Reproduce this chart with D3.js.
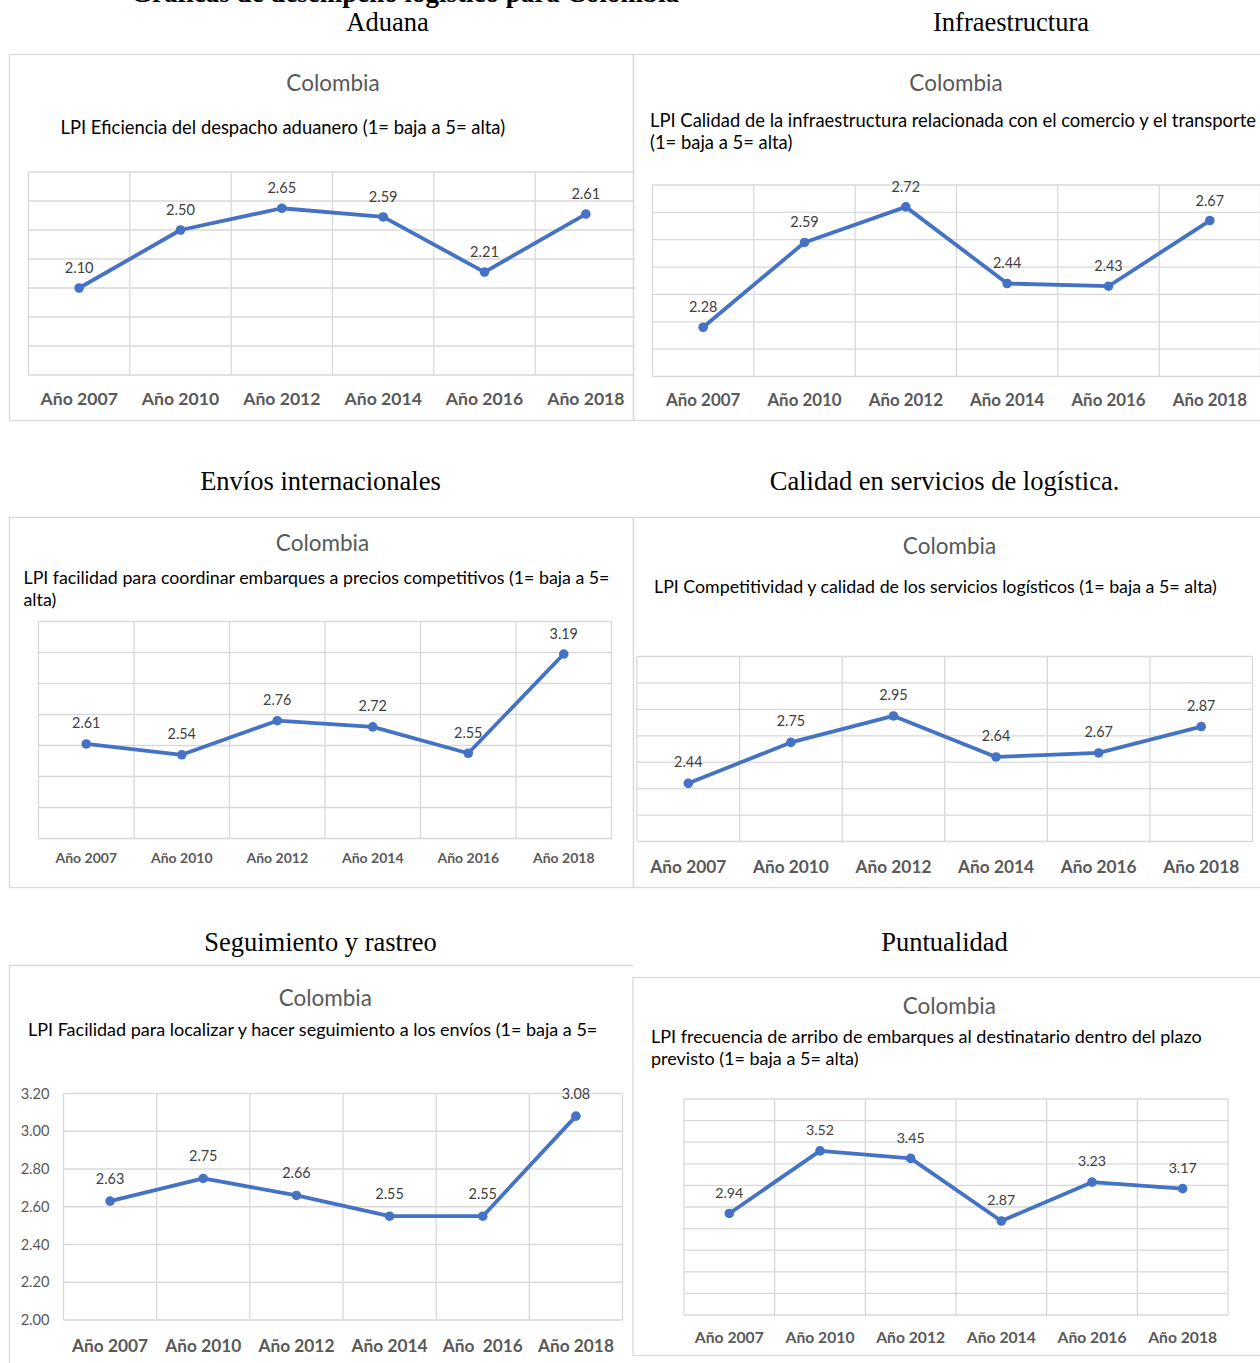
<!DOCTYPE html>
<html><head><meta charset="utf-8">
<script src="https://cdn.jsdelivr.net/npm/d3@7"></script>
<style>body{margin:0;background:#fff} svg{display:block}</style>
</head><body><svg id="c" width="1260" height="1363"></svg>
<script>
// ---------------- DATA ----------------
const categories = ["Año 2007", "Año 2010", "Año 2012", "Año 2014", "Año 2016", "Año 2018"];
const categoriesSeguimiento = ["Año 2007", "Año 2010", "Año 2012", "Año 2014", "Año  2016", "Año 2018"];

const aduanaValues       = [2.10, 2.50, 2.65, 2.59, 2.21, 2.61];
const infraValues        = [2.28, 2.59, 2.72, 2.44, 2.43, 2.67];
const enviosValues       = [2.61, 2.54, 2.76, 2.72, 2.55, 3.19];
const calidadValues      = [2.44, 2.75, 2.95, 2.64, 2.67, 2.87];
const seguimientoValues  = [2.63, 2.75, 2.66, 2.55, 2.55, 3.08];
const puntualidadValues  = [2.94, 3.52, 3.45, 2.87, 3.23, 3.17];

const aduanaTicks      = [1.5, 1.7, 1.9, 2.1, 2.3, 2.5, 2.7, 2.9];
const infraTicks       = [2.1, 2.2, 2.3, 2.4, 2.5, 2.6, 2.7, 2.8];
const enviosTicks      = [2.0, 2.2, 2.4, 2.6, 2.8, 3.0, 3.2, 3.4];
const calidadTicks     = [2.0, 2.2, 2.4, 2.6, 2.8, 3.0, 3.2, 3.4];
const seguimientoTicks = [2.0, 2.2, 2.4, 2.6, 2.8, 3.0, 3.2];
const seguimientoTickLabels = ["2.00", "2.20", "2.40", "2.60", "2.80", "3.00", "3.20"];
const puntualidadTicks = [2.0, 2.2, 2.4, 2.6, 2.8, 3.0, 3.2, 3.4, 3.6, 3.8, 4.0];

const pageTitle = "Gráficas de desempeño logístico para Colombia";
const sectionTitles = ["Aduana", "Infraestructura", "Envíos internacionales",
  "Calidad en servicios de logística.", "Seguimiento y rastreo", "Puntualidad"];
const chartTitle = "Colombia";
const subtitleAduana = ["LPI Eficiencia del despacho aduanero (1= baja a 5= alta)"];
const subtitleInfra = ["LPI Calidad de la infraestructura relacionada con el comercio y el transporte", "(1= baja a 5= alta)"];
const subtitleEnvios = ["LPI facilidad para coordinar embarques a precios competitivos (1= baja a 5=", "alta)"];
const subtitleCalidad = ["LPI Competitividad y calidad de los servicios logísticos (1= baja a 5= alta)"];
const subtitleSeguimiento = ["LPI Facilidad para localizar y hacer seguimiento a los envíos (1= baja a 5="];
const subtitlePuntualidad = ["LPI frecuencia de arribo de embarques al destinatario dentro del plazo", "previsto (1= baja a 5= alta)"];

// ---------------- LAYOUT ----------------
const panels = [
  { section: sectionTitles[0], sx: 387.5, sy: 31, box: [9.5, 54.5, 633.5, 420.5],
    tx: 333, ty: 90.7, sub: subtitleAduana, subX: 60.5, subY: 134, subFont: 18.4,
    plot: [28.5, 172, 636.5, 375], values: aduanaValues, ticks: aduanaTicks, cats: categories,
    axisFont: 17.6, axisY: 405, gap: 15, labelFont: 14.6 },
  { section: sectionTitles[1], sx: 1011, sy: 31, box: [633.5, 54.5, 1265, 420.5],
    tx: 956, ty: 90.7, sub: subtitleInfra, subX: 650, subY: 126.5, subFont: 18.4,
    plot: [652.5, 185, 1260.5, 376.5], values: infraValues, ticks: infraTicks, cats: categories,
    axisFont: 16.9, axisY: 405.5, gap: 15, labelFont: 14.4 },
  { section: sectionTitles[2], sx: 320.5, sy: 490, box: [9.5, 517.5, 633.5, 887.5],
    tx: 322.5, ty: 550.7, sub: subtitleEnvios, subX: 23.5, subY: 584, subFont: 17.8,
    plot: [38.5, 621.5, 611.5, 838.5], values: enviosValues, ticks: enviosTicks, cats: categories,
    axisFont: 14, axisY: 863, gap: 15.5, labelFont: 14.4 },
  { section: sectionTitles[3], sx: 944.5, sy: 490, box: [633.5, 517.5, 1265, 887.5],
    tx: 949.5, ty: 554.3, sub: subtitleCalidad, subX: 654, subY: 593.3, subFont: 17.8,
    plot: [637, 656.5, 1252.5, 841.5], values: calidadValues, ticks: calidadTicks, cats: categories,
    axisFont: 17.3, axisY: 873, gap: 16, labelFont: 14.4 },
  { section: sectionTitles[4], sx: 320.5, sy: 950.5, box: [9.5, 965.5, 633, 1375], noRight: true,
    tx: 325.3, ty: 1005.7, sub: subtitleSeguimiento, subX: 28, subY: 1036, subFont: 18,
    plot: [63.5, 1093.5, 622.5, 1320], values: seguimientoValues, ticks: seguimientoTicks, cats: categoriesSeguimiento,
    tickLabels: seguimientoTickLabels,
    axisFont: 17.3, axisY: 1352, gap: 17.5, labelFont: 14.4 },
  { section: sectionTitles[5], sx: 944.5, sy: 950.5, box: [633, 977.5, 1265, 1355.5],
    tx: 949.3, ty: 1014.3, sub: subtitlePuntualidad, subX: 651, subY: 1042.7, subFont: 18,
    plot: [684, 1099, 1228, 1315], values: puntualidadValues, ticks: puntualidadTicks, cats: categories,
    axisFont: 15.7, axisY: 1343.3, gap: 15.7, labelFont: 14.2 }
];

const SANS = "Lato, 'Open Sans', sans-serif";
const SERIF = "'Liberation Serif', 'Times New Roman', serif";
const BLUE = "#4472C4";
const GRID = "#D9D9D9";

const svg = d3.select("#c");
svg.append("rect").attr("width", 1260).attr("height", 1363).attr("fill", "#fff");

// page title, cut off at the top edge as in the source document
svg.append("text").attr("x", 405).attr("y", 1.5).attr("text-anchor", "middle")
  .attr("font-family", SERIF).attr("font-weight", "bold").attr("font-size", 27)
  .attr("fill", "#000").text(pageTitle);

const defs = svg.append("defs");

panels.forEach((p, i) => {
  svg.append("text").attr("x", p.sx).attr("y", p.sy).attr("text-anchor", "middle")
    .attr("font-family", SERIF).attr("font-size", 26.5).attr("fill", "#000").text(p.section);

  const [bx0, by0, bx1, by1] = p.box;
  defs.append("clipPath").attr("id", "clip" + i)
    .append("rect").attr("x", bx0).attr("y", by0).attr("width", bx1 - bx0).attr("height", by1 - by0);
  const g = svg.append("g").attr("clip-path", `url(#clip${i})`);

  if (p.noRight) {
    svg.append("path").attr("d", `M${bx1},${by0}H${bx0}V${by1}`)
      .attr("fill", "none").attr("stroke", GRID).attr("stroke-width", 1.3);
  } else {
    svg.append("rect").attr("x", bx0).attr("y", by0).attr("width", bx1 - bx0).attr("height", by1 - by0)
      .attr("fill", "none").attr("stroke", GRID).attr("stroke-width", 1.3);
  }

  g.append("text").attr("x", p.tx).attr("y", p.ty).attr("text-anchor", "middle")
    .attr("font-family", SANS).attr("font-size", 22.5).attr("fill", "#595959").text(chartTitle);

  p.sub.forEach((line, k) => {
    g.append("text").attr("x", p.subX).attr("y", p.subY + k * 22)
      .attr("font-family", SANS).attr("font-size", p.subFont).attr("fill", "#000").text(line);
  });

  const [px0, py0, px1, py1] = p.plot;
  const x = d3.scaleBand().domain(p.cats).range([px0, px1]).paddingInner(0).paddingOuter(0);
  const y = d3.scaleLinear().domain([p.ticks[0], p.ticks[p.ticks.length - 1]]).range([py1, py0]);

  g.append("g").selectAll("line").data(p.ticks).join("line")
    .attr("x1", px0).attr("x2", px1)
    .attr("y1", d => y(d)).attr("y2", d => y(d))
    .attr("stroke", GRID).attr("stroke-width", 1.3);
  const bounds = p.cats.map(c => x(c)).concat([x(p.cats[p.cats.length - 1]) + x.bandwidth()]);
  g.append("g").selectAll("line").data(bounds).join("line")
    .attr("x1", d => d).attr("x2", d => d).attr("y1", py0).attr("y2", py1)
    .attr("stroke", GRID).attr("stroke-width", 1.3);

  const xa = g.append("g").attr("transform", `translate(0,${py1})`)
    .call(d3.axisBottom(x).tickSize(0));
  xa.select(".domain").remove();
  xa.selectAll("text").attr("y", p.axisY - py1).attr("dy", 0)
    .attr("font-family", SANS).attr("font-weight", "bold").attr("font-size", p.axisFont)
    .attr("fill", "#595959").style("white-space", "pre");

  if (p.tickLabels) {
    const ya = g.append("g").attr("transform", `translate(${px0},0)`)
      .call(d3.axisLeft(y).tickValues(p.ticks).tickSize(0).tickPadding(14)
        .tickFormat((d, k) => p.tickLabels[k]));
    ya.select(".domain").remove();
    ya.selectAll("text").attr("font-family", SANS).attr("font-size", 14.6).attr("fill", "#595959");
  }

  const pts = p.cats.map((c, k) => ({ c, v: p.values[k] }));
  const cx = d => x(d.c) + x.bandwidth() / 2;

  g.append("path").datum(pts)
    .attr("d", d3.line().x(cx).y(d => y(d.v)))
    .attr("fill", "none").attr("stroke", BLUE).attr("stroke-width", 3.8)
    .attr("stroke-linejoin", "round").attr("stroke-linecap", "round");

  g.append("g").selectAll("circle").data(pts).join("circle")
    .attr("cx", cx).attr("cy", d => y(d.v)).attr("r", 4.8).attr("fill", BLUE);

  g.append("g").selectAll("text").data(pts).join("text")
    .attr("x", cx).attr("y", d => y(d.v) - p.gap).attr("text-anchor", "middle")
    .attr("font-family", SANS).attr("font-size", p.labelFont).attr("fill", "#404040")
    .text(d => d.v.toFixed(2));
});
</script>
</body></html>
